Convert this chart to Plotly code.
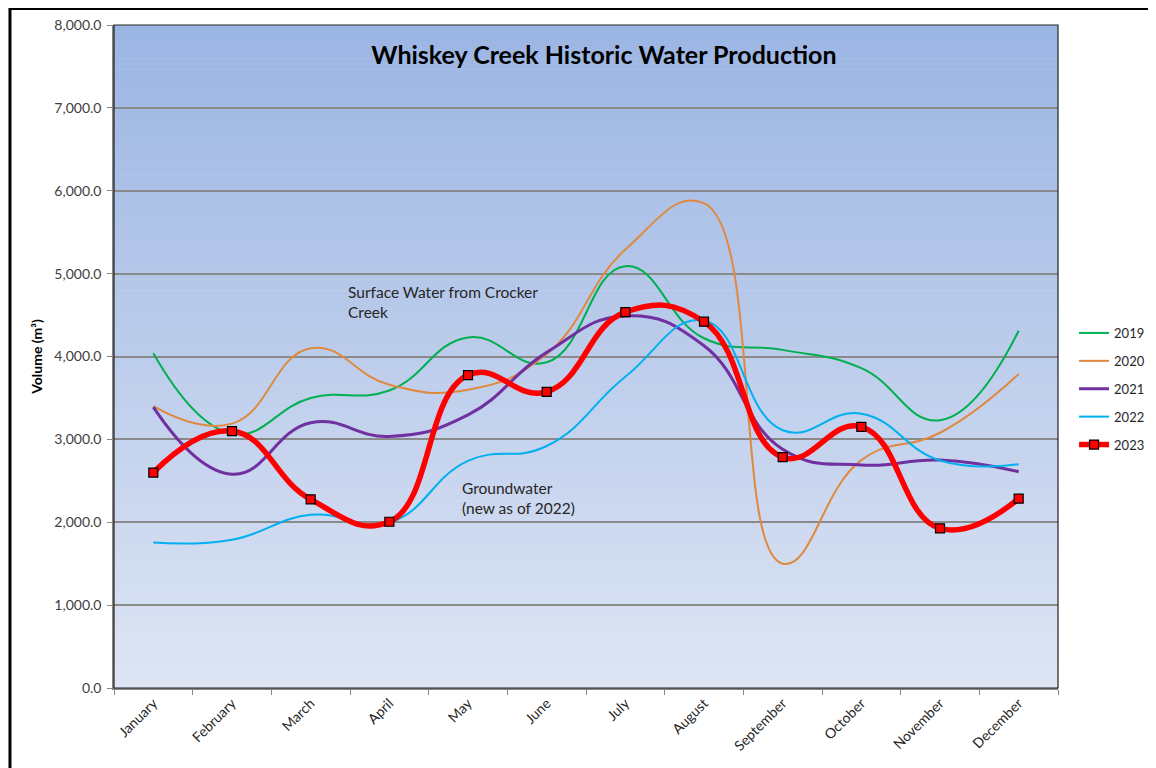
import plotly.graph_objects as go

months = ["January", "February", "March", "April", "May", "June", "July",
          "August", "September", "October", "November", "December"]
years = ["2019", "2020", "2021", "2022", "2023"]
v2019 = [4040, 3070, 3500, 3590, 4230, 3930, 5090, 4220, 4080, 3860, 3230, 4310]
v2020 = [3400, 3190, 4100, 3660, 3600, 4030, 5290, 5850, 1500, 2750, 3080, 3790]
v2021 = [3390, 2580, 3200, 3035, 3295, 4050, 4490, 4130, 2880, 2690, 2750, 2610]
v2022 = [1755, 1790, 2090, 1995, 2740, 2920, 3755, 4435, 3110, 3310, 2745, 2700]
v2023 = [2600, 3100, 2276, 2006, 3776, 3574, 4535, 4420, 2785, 3152, 1926, 2285]

series = [v2019, v2020, v2021, v2022, v2023]
colors = ["#00B050", "#E0893E", "#7030A0", "#00B0F0", "#FF0000"]
widths = [2, 2, 3, 2, 5.5]

fig = go.Figure()
for i, (name, vals) in enumerate(zip(years, series)):
    is_last = name == "2023"
    fig.add_trace(go.Scatter(
        x=months, y=vals, name=name,
        mode="lines+markers" if is_last else "lines",
        line=dict(color=colors[i], width=widths[i], shape="spline", smoothing=1.3),
        marker=dict(symbol="square", size=9, color="#FF0000",
                    line=dict(color="#000000", width=1.2)) if is_last else None,
        legendgroup=name,
    ))

# gradient background in plot area
shapes = []
n = 120
top = (155, 181, 227)
bot = (222, 229, 244)
for k in range(n):
    t = (k + 0.5) / n
    c = tuple(round(top[j] + (bot[j] - top[j]) * t) for j in range(3))
    shapes.append(dict(type="rect", xref="paper", yref="paper",
                       x0=0, x1=1, y0=1 - (k + 1) / n - 0.001, y1=1 - k / n,
                       fillcolor="rgb(%d,%d,%d)" % c, line=dict(width=0),
                       layer="below"))
# plot area border
shapes.append(dict(type="rect", xref="paper", yref="paper", x0=0, x1=1, y0=0, y1=1,
                   line=dict(color="#222222", width=1.2), layer="above",
                   fillcolor="rgba(0,0,0,0)"))
# outer frame
shapes.append(dict(type="rect", xref="paper", yref="paper",
                   x0=-0.1102, x1=1.3, y0=-0.3, y1=1.0249,
                   line=dict(color="#000000", width=3), fillcolor="rgba(0,0,0,0)",
                   layer="above"))

font_family = "Lato, 'Open Sans', sans-serif"

W, H = 1148, 760  # page body has an 8px margin

fig.update_layout(
    width=W, height=H,
    margin=dict(l=106, r=98, t=17, b=80, autoexpand=False),
    paper_bgcolor="white",
    plot_bgcolor="white",
    shapes=shapes,
    font=dict(family=font_family, size=13, color="#404040"),
    title=dict(text="<b>Whiskey Creek Historic Water Production</b>",
               x=0.519, xref="paper", xanchor="center",
               y=1 - 47 / H, yref="container", yanchor="middle",
               font=dict(family=font_family, size=25, color="#000000")),
    xaxis=dict(
        type="category", tickangle=-45, tickson="boundaries",
        ticks="outside", ticklen=5, tickcolor="#868686",
        showline=True, linecolor="#868686", linewidth=1.5,
        showgrid=False, tickfont=dict(size=14, color="#262626"),
        range=[-0.5, 11.5],
    ),
    yaxis=dict(
        range=[0, 8000], dtick=1000, tickformat=",.1f",
        ticks="outside", ticklen=5, tickcolor="#868686",
        showline=True, linecolor="#868686", linewidth=1.5,
        showgrid=True, gridcolor="#8A8A8A", gridwidth=1.5,
        zeroline=False, ticklabelstandoff=3,
        title=dict(text="<b>Volume (m³)</b>", standoff=8,
                   font=dict(size=14, color="#000000")),
        tickfont=dict(size=14, color="#404040"),
    ),
    legend=dict(
        x=1.017, xanchor="left", y=0.451, yanchor="middle",
        font=dict(size=13, color="#262626"),
        tracegroupgap=8, bgcolor="rgba(0,0,0,0)",
    ),
    annotations=[
        dict(text="Surface Water from Crocker<br>Creek", xref="paper", yref="paper",
             x=(346 - 114) / 944, y=(688 - 281) / 663, xanchor="left", yanchor="top",
             showarrow=False, align="left",
             font=dict(size=15.5, color="#262626")),
        dict(text="Groundwater<br>(new as of 2022)", xref="paper", yref="paper",
             x=(460 - 114) / 944, y=(688 - 477) / 663, xanchor="left", yanchor="top",
             showarrow=False, align="left",
             font=dict(size=15.5, color="#262626")),
    ],
)

fig.write_html("out.html")
